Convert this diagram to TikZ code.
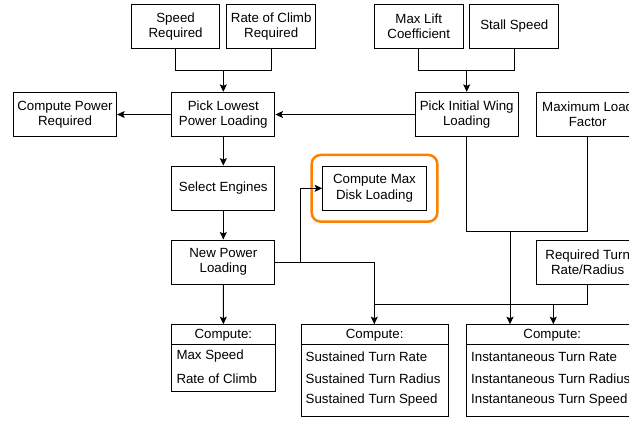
\documentclass[tikz,border=0pt]{standalone}
\usepackage{fontspec}
\setmainfont{Liberation Sans}
\usetikzlibrary{arrows.meta}
\definecolor{hlorange}{RGB}{255,128,0}
\begin{document}
\begin{tikzpicture}[x=1pt,y=-1pt,
  box/.style={draw, line width=1pt, align=center, inner sep=0pt, minimum width=103.3pt, minimum height=44.3pt, font=\fontsize{13.3}{15.2}\selectfont},
  txt/.style={anchor=west, inner sep=0pt, font=\fontsize{13.3}{15.2}\selectfont},
  hdr/.style={inner sep=0pt, font=\fontsize{13.3}{15.2}\selectfont},
  arr/.style={-{Stealth[length=7.5pt,width=7pt,inset=1.5pt]}, line width=1pt},
  ln/.style={line width=1pt}]
\clip (0,0) rectangle (629,421);
\fill[white] (0,0) rectangle (629,421);
% top inputs
\node[box, minimum width=88.7pt] (speed) at (175.6,26.2) {Speed\\Required};
\node[box, minimum width=88.7pt] (climb) at (271.2,26.2) {Rate of Climb\\Required};
\node[box, minimum width=88.7pt] (lift) at (418.7,26.2) {Max Lift\\Coefficient};
\node[box, minimum width=88.7pt] (stall) at (514.3,26.2) {Stall Speed};
% second row
\node[box] (power) at (65,114.5) {Compute Power\\Required};
\node[box] (lowest) at (223.3,114.5) {Pick Lowest\\Power Loading};
\node[box] (wing) at (466.7,114.5) {Pick Initial Wing\\Loading};
\node[box] (loadf) at (587.7,114.5) {Maximum Load\\Factor};
% third row
\node[box] (engines) at (223.3,188.3) {Select Engines};
\node[draw=hlorange, line width=2.5pt, rounded corners=9pt, minimum width=125.6pt, minimum height=66.7pt] (hl) at (374.5,188.3) {};
\node[box, minimum width=103.6pt, minimum height=44pt] (disk) at (374.5,188.3) {Compute Max\\Disk Loading};
% fourth row
\node[box, minimum height=44pt] (newpower) at (223.3,262) {New Power\\Loading};
\node[box, minimum height=44pt] (turnreq) at (587.7,262) {Required Turn\\Rate/Radius};
% compute boxes
\node[draw, line width=1pt, minimum width=103.3pt, minimum height=66.3pt, inner sep=0pt] (c1) at (223.35,357.85) {};
\draw[ln] (171.7,344) -- (275,344);
\node[hdr] (c1h) at (223.35,335.5) {Compute:};
\node[txt] (c1a) at (176.3,356.5) {Max Speed};
\node[txt] (c1b) at (176.3,378.3) {Rate of Climb};

\node[draw, line width=1pt, minimum width=147.3pt, minimum height=92pt, inner sep=0pt] (c2) at (374.65,370.7) {};
\draw[ln] (301,344) -- (448.3,344);
\node[hdr] (c2h) at (374.65,335.5) {Compute:};
\node[txt] (c2a) at (305.5,356.5) {Sustained Turn Rate};
\node[txt] (c2b) at (305.5,378.3) {Sustained Turn Radius};
\node[txt] (c2c) at (305.5,400.3) {Sustained Turn Speed};

\node[draw, line width=1pt, minimum width=172pt, minimum height=92pt, inner sep=0pt] (c3) at (552.3,370.7) {};
\draw[ln] (466.3,344) -- (640,344);
\node[hdr] (c3h) at (552.3,335.5) {Compute:};
\node[txt] (c3a) at (471,356.5) {Instantaneous Turn Rate};
\node[txt] (c3b) at (471,378.3) {Instantaneous Turn Radius};
\node[txt] (c3c) at (471,400.3) {Instantaneous Turn Speed};

% junction coordinates
\coordinate (m1) at (223.3,70.3);
\coordinate (m2) at (466.7,70.3);
\coordinate (j1) at (300,262);
\coordinate (j2) at (510,231);
\coordinate (j3) at (374.3,304.3);
\coordinate (j4) at (553.3,304.3);

% connectors
\draw[ln] (speed.south) |- (m1) -| (climb.south);
\draw[arr] (m1) -- (lowest.north);
\draw[ln] (lift.south) |- (m2) -| (stall.south);
\draw[arr] (m2) -- (wing.north);
\draw[arr] (lowest.west) -- (power.east);
\draw[arr] (wing.west) -- (lowest.east);
\draw[arr] (lowest.south) -- (engines.north);
\draw[arr] (engines.south) -- (newpower.north);
\draw[arr] (newpower.south) -- (c1.north);
\draw[ln] (newpower.east) -- (j1);
\draw[arr] (j1) |- (disk.west);
\draw[arr] (j1) -| (j3) -- (j3 |- c2.north);
\draw[ln] (wing.south) -- (wing.south |- j2) -| (loadf.south);
\draw[arr] (j2) -- (j2 |- c3.north);
\draw[ln] (turnreq.south) |- (j3);
\draw[arr] (j4) -- (j4 |- c3.north);
\end{tikzpicture}
\end{document}
